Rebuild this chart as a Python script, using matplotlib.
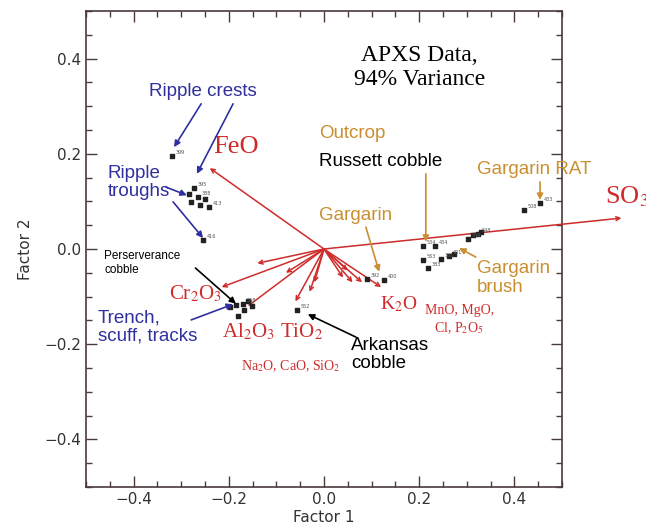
import matplotlib.pyplot as plt
from matplotlib.ticker import MultipleLocator

plt.rcParams['mathtext.fontset'] = 'stix'

# loading vectors (Factor 1, Factor 2)
vec_x = [-0.24, 0.625, -0.215, -0.16, -0.06, -0.14, -0.08, -0.03, -0.02, 0.04, 0.06, 0.08, 0.05, 0.12]
vec_y = [0.17, 0.065, -0.08, -0.12, -0.11, -0.03, -0.05, -0.09, -0.07, -0.06, -0.07, -0.07, -0.045, -0.08]

# sample scores
pt_x = [-0.319, -0.273, -0.284, -0.265, -0.279, -0.260, -0.242, -0.250, -0.254,
        -0.185, -0.170, -0.160, -0.151, -0.181, -0.168, -0.197, -0.057,
        0.090, 0.126, 0.208, 0.233, 0.208, 0.218, 0.246, 0.263, 0.273,
        0.302, 0.313, 0.324, 0.330, 0.420, 0.454]
pt_y = [0.196, 0.128, 0.116, 0.109, 0.099, 0.093, 0.088, 0.105, 0.019,
        -0.118, -0.116, -0.109, -0.120, -0.141, -0.128, -0.122, -0.128,
        -0.063, -0.065, 0.006, 0.006, -0.023, -0.040, -0.021, -0.015, -0.011,
        0.021, 0.029, 0.032, 0.036, 0.082, 0.097]
pt_lab = ['399', '395', '', '388', '', '', '413', '', '416',
          '', '558', '', '', '', '', '', '552',
          '392', '400', '534', '434', '563', '383', '381', '401', '',
          '546', '', '548', '', '508', '433']

red = '#cf2b2b'
blue = '#2f2f9f'
orange = '#c98f30'
axc = '#4a3a3a'

fig = plt.figure(figsize=(6.46, 5.29), dpi=100)
ax = fig.add_axes([0.1331, 0.0794, 0.7368, 0.8998])
ax.set_xlim(-0.5, 0.5)
ax.set_ylim(-0.5, 0.5)

# vectors
for vx, vy in zip(vec_x, vec_y):
    ax.annotate('', xy=(vx, vy), xytext=(0, 0), annotation_clip=False,
                arrowprops=dict(arrowstyle='->', color=red, lw=1.1,
                                mutation_scale=7, shrinkA=0, shrinkB=0))

# points
ax.scatter(pt_x, pt_y, s=5, color='#222222', marker='s', zorder=3)
for x, y, t in zip(pt_x, pt_y, pt_lab):
    ax.text(x + 0.008, y + 0.004, t, fontsize=3.5, color='#555555')

serif = 'Liberation Serif'
sans = 'Liberation Sans'

ax.text(0.20, 0.382, 'APXS Data,\n94% Variance', family=serif, fontsize=17,
        ha='center', va='center', linespacing=1.2)

# oxide labels
ax.text(-0.185, 0.214, 'FeO', family=serif, fontsize=19, color=red, ha='center', va='center')
ax.text(0.59, 0.109, r'SO$_3$', family=serif, fontsize=19, color=red, ha='left', va='center')
ax.text(-0.269, -0.095, r'Cr$_2$O$_3$', family=serif, fontsize=15, color=red, ha='center', va='center')
ax.text(-0.107, -0.174, r'Al$_2$O$_3$ TiO$_2$', family=serif, fontsize=15, color=red, ha='center', va='center')
ax.text(-0.069, -0.246, r'Na$_2$O, CaO, SiO$_2$', family=serif, fontsize=10, color=red, ha='center', va='center')
ax.text(0.158, -0.116, r'K$_2$O', family=serif, fontsize=14, color=red, ha='center', va='center')
ax.text(0.284, -0.149, 'MnO, MgO,\n' + r'Cl, P$_2$O$_5$', family=serif, fontsize=10,
        color=red, ha='center', va='center', linespacing=1.3)


def note(txt, xy, xytext, color, fs=13.5, arrow_from=None, **kw):
    ax.text(xytext[0], xytext[1], txt, family=sans, fontsize=fs, color=color,
            ha='left', va='center', **kw)
    if arrow_from is not None:
        ax.annotate('', xy=xy, xytext=arrow_from,
                    arrowprops=dict(arrowstyle='-|>', color=color, lw=1.2,
                                    mutation_scale=9, shrinkA=0, shrinkB=0))


note('Ripple crests', (-0.315, 0.214), (-0.368, 0.330), blue, arrow_from=(-0.258, 0.305))
ax.annotate('', xy=(-0.267, 0.158), xytext=(-0.191, 0.305),
            arrowprops=dict(arrowstyle='-|>', color=blue, lw=1.2, mutation_scale=9, shrinkA=0, shrinkB=0))
note('Ripple\ntroughs', (-0.288, 0.113), (-0.454, 0.139), blue, arrow_from=(-0.332, 0.130), linespacing=1.1)
ax.annotate('', xy=(-0.254, 0.023), xytext=(-0.317, 0.099),
            arrowprops=dict(arrowstyle='-|>', color=blue, lw=1.2, mutation_scale=9, shrinkA=0, shrinkB=0))
note('Perserverance\ncobble', (-0.185, -0.115), (-0.462, -0.029), 'black', fs=8.5,
     arrow_from=(-0.27, -0.04), linespacing=1.2)
note('Trench,\nscuff, tracks', (-0.191, -0.116), (-0.475, -0.164), blue,
     arrow_from=(-0.279, -0.149), linespacing=1.1)
note('Arkansas\ncobble', (-0.034, -0.137), (0.057, -0.221), 'black',
     arrow_from=(0.067, -0.185), linespacing=1.1)
note('Outcrop', None, (-0.011, 0.242), orange)
note('Russett cobble', (0.214, 0.015), (-0.011, 0.183), 'black')
ax.annotate('', xy=(0.214, 0.015), xytext=(0.214, 0.158),
            arrowprops=dict(arrowstyle='-|>', color=orange, lw=1.2, mutation_scale=9, shrinkA=0, shrinkB=0))
note('Gargarin', (0.116, -0.048), (-0.011, 0.071), orange, arrow_from=(0.088, 0.046))
note('Gargarin RAT', (0.454, 0.103), (0.321, 0.168), orange, arrow_from=(0.454, 0.141))
note('Gargarin\nbrush', (0.284, 0.002), (0.321, -0.061), orange, arrow_from=(0.319, -0.017),
     linespacing=1.1)

# axes styling
for s in ax.spines.values():
    s.set_color(axc)
    s.set_linewidth(1.2)
ax.xaxis.set_major_locator(MultipleLocator(0.2))
ax.xaxis.set_minor_locator(MultipleLocator(0.05))
ax.yaxis.set_major_locator(MultipleLocator(0.2))
ax.yaxis.set_minor_locator(MultipleLocator(0.05))
ax.tick_params(which='both', direction='in', top=True, right=True, color=axc,
               labelsize=11, labelcolor='#333333')
ax.tick_params(which='major', length=8, width=1)
ax.tick_params(which='minor', length=4, width=1)
ax.xaxis.set_major_formatter(plt.FuncFormatter(lambda v, p: f'{v:.1f}'.replace('-', '\u2212')))
ax.yaxis.set_major_formatter(plt.FuncFormatter(lambda v, p: f'{v:.1f}'.replace('-', '\u2212')))
ax.set_xlabel('Factor 1', fontsize=11, color='#333333', labelpad=2)
ax.set_ylabel('Factor 2', fontsize=11, color='#333333', labelpad=8)

fig.savefig('out.png', dpi=100)
